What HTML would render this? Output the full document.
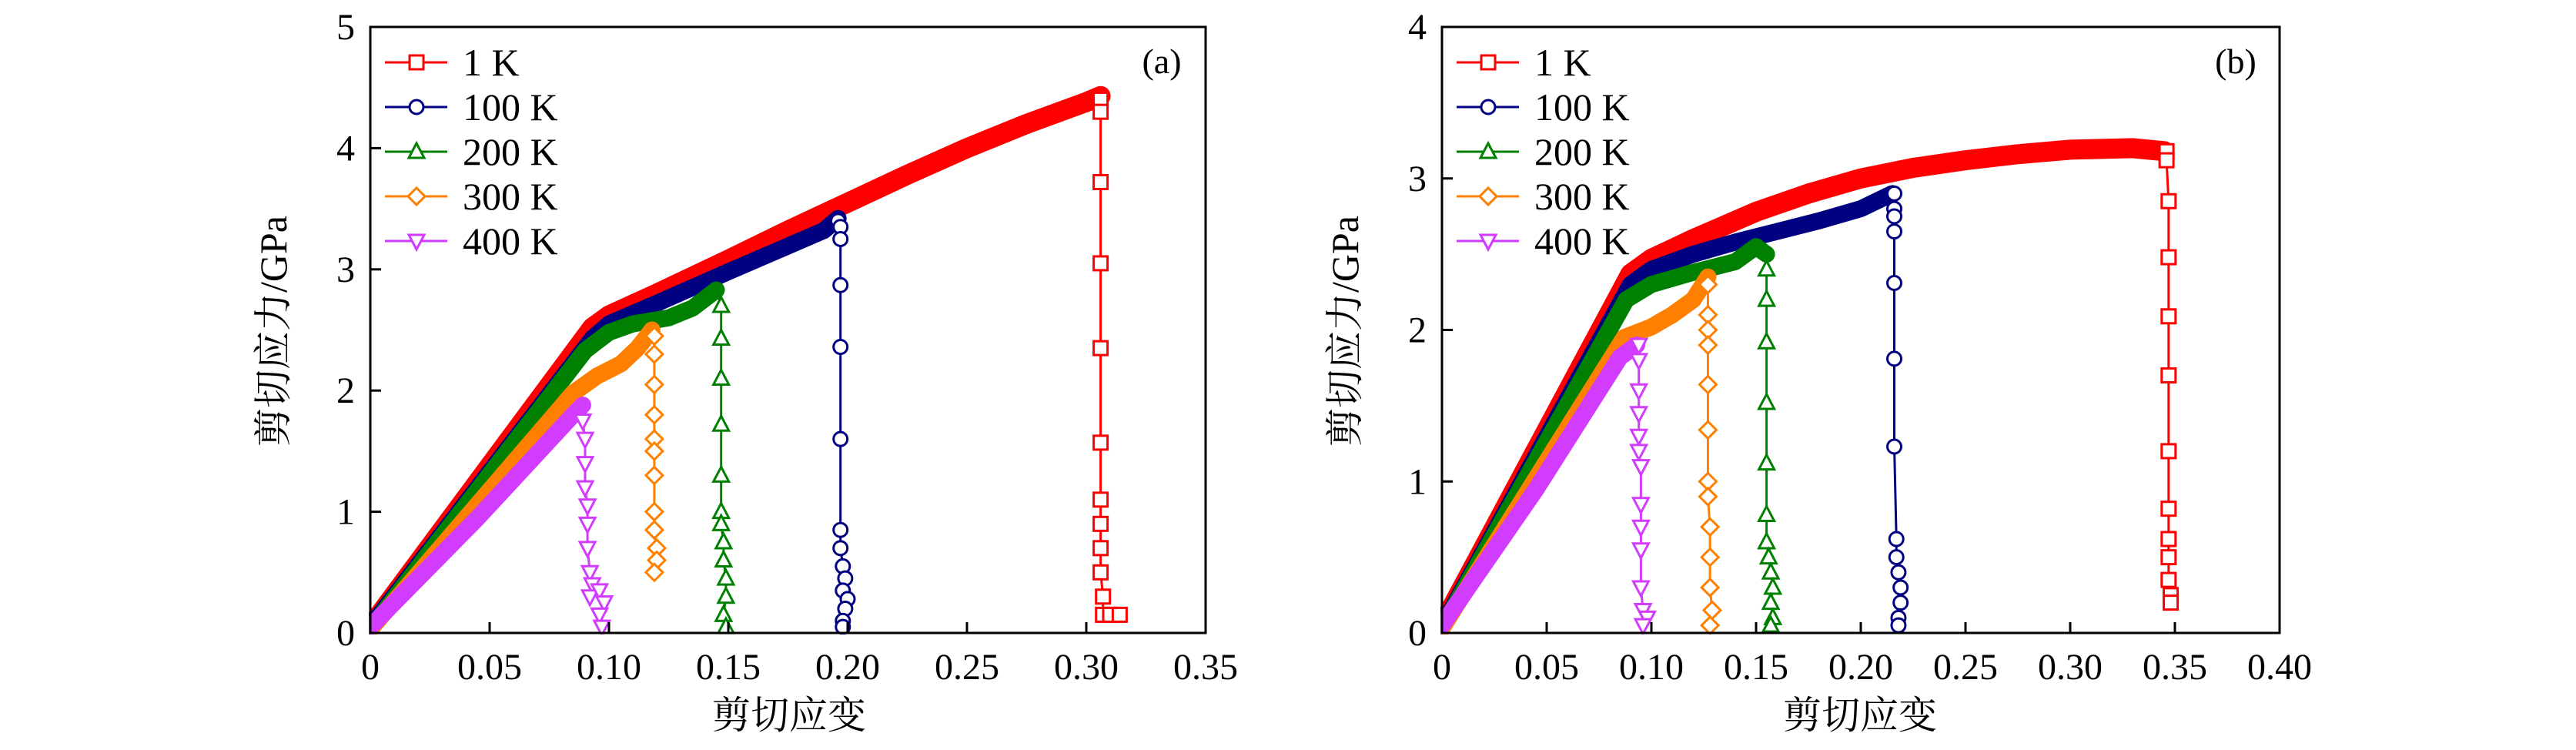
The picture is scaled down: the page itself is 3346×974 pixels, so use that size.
<!DOCTYPE html>
<html><head><meta charset="utf-8">
<style>
html,body{margin:0;padding:0;background:#fff;}
svg{display:block;}
text{font-family:"Liberation Serif","Noto Serif CJK SC",serif;fill:#000;}
</style></head>
<body>
<svg id="chart" width="3346" height="974" viewBox="0 0 3346 974" xmlns="http://www.w3.org/2000/svg"></svg>
<script>
// ---------- data ----------
const seriesNames = ["1 K","100 K","200 K","300 K","400 K"];
const seriesColors = ["#ff0000","#000080","#008000","#ff8000","#d23cff"];
const seriesMarkers = ["square","circle","up","diamond","down"];

// Panel (a) band curves [strain, stress]
const aBand1 = [[0,0.05],[0.093,2.52],[0.1,2.62],[0.12,2.8],[0.15,3.08],[0.175,3.32],[0.2,3.55],[0.225,3.78],[0.25,4.0],[0.275,4.2],[0.3,4.38],[0.306,4.43]];
const aBand100 = [[0,0.05],[0.093,2.43],[0.1,2.55],[0.12,2.72],[0.15,2.98],[0.17,3.15],[0.19,3.32],[0.196,3.42]];
const aBand200 = [[0,0.03],[0.09,2.33],[0.1,2.48],[0.11,2.55],[0.125,2.6],[0.135,2.68],[0.145,2.83]];
const aBand300 = [[0,0.03],[0.085,1.98],[0.095,2.12],[0.105,2.22],[0.112,2.35],[0.118,2.5]];
const aBand400 = [[0,0.05],[0.045,0.95],[0.085,1.8],[0.089,1.88]];
// Panel (a) drop markers
const aDrop1 = [[0.306,4.4],[0.306,4.3],[0.306,3.72],[0.306,3.05],[0.306,2.35],[0.306,1.57],[0.306,1.1],[0.306,0.9],[0.306,0.7],[0.306,0.5],[0.307,0.3],[0.307,0.15],[0.31,0.15],[0.314,0.15]];
const aDrop100 = [[0.196,3.4],[0.197,3.35],[0.197,3.25],[0.197,2.87],[0.197,2.36],[0.197,1.6],[0.197,0.85],[0.197,0.7],[0.198,0.55],[0.199,0.45],[0.198,0.35],[0.2,0.28],[0.199,0.2],[0.198,0.1],[0.198,0.05]];
const aDrop200 = [[0.147,2.7],[0.147,2.43],[0.147,2.1],[0.147,1.72],[0.147,1.3],[0.147,1.0],[0.147,0.9],[0.148,0.75],[0.148,0.6],[0.149,0.45],[0.149,0.3],[0.148,0.15],[0.149,0.05]];
const aDrop300 = [[0.119,2.45],[0.119,2.3],[0.119,2.05],[0.119,1.8],[0.119,1.6],[0.119,1.5],[0.119,1.3],[0.119,1.0],[0.119,0.85],[0.12,0.7],[0.12,0.6],[0.119,0.5]];
const aDrop400 = [[0.089,1.75],[0.09,1.6],[0.09,1.4],[0.09,1.2],[0.091,1.05],[0.091,0.9],[0.091,0.7],[0.092,0.5],[0.093,0.4],[0.092,0.3],[0.096,0.35],[0.098,0.25],[0.096,0.15],[0.097,0.05]];

// Panel (b) band curves
const bBand1 = [[0,0.05],[0.09,2.37],[0.1,2.47],[0.12,2.6],[0.15,2.78],[0.175,2.9],[0.2,3.0],[0.225,3.07],[0.25,3.12],[0.275,3.16],[0.3,3.19],[0.33,3.2],[0.345,3.18]];
const bBand100 = [[0,0.04],[0.09,2.3],[0.1,2.4],[0.12,2.5],[0.14,2.58],[0.16,2.65],[0.18,2.72],[0.2,2.8],[0.215,2.9]];
const bBand200 = [[0,0.03],[0.088,2.2],[0.1,2.3],[0.12,2.38],[0.14,2.45],[0.15,2.55],[0.155,2.5]];
const bBand300 = [[0,0.03],[0.087,1.95],[0.1,2.02],[0.11,2.1],[0.12,2.2],[0.127,2.35]];
const bBand400 = [[0,0.05],[0.045,0.95],[0.085,1.82],[0.093,1.9]];
const bDrop1 = [[0.346,3.18],[0.346,3.12],[0.347,2.85],[0.347,2.48],[0.347,2.09],[0.347,1.7],[0.347,1.2],[0.347,0.82],[0.347,0.62],[0.347,0.5],[0.347,0.35],[0.348,0.25],[0.348,0.2]];
const bDrop100 = [[0.216,2.9],[0.216,2.8],[0.216,2.75],[0.216,2.65],[0.216,2.31],[0.216,1.81],[0.216,1.23],[0.217,0.62],[0.217,0.5],[0.218,0.4],[0.219,0.3],[0.219,0.2],[0.218,0.1],[0.218,0.05]];
const bDrop200 = [[0.155,2.4],[0.155,2.2],[0.155,1.92],[0.155,1.52],[0.155,1.12],[0.155,0.78],[0.155,0.6],[0.156,0.5],[0.157,0.4],[0.158,0.3],[0.157,0.2],[0.158,0.1],[0.157,0.05]];
const bDrop300 = [[0.127,2.3],[0.127,2.1],[0.127,2.0],[0.127,1.9],[0.127,1.64],[0.127,1.34],[0.127,1.0],[0.127,0.9],[0.128,0.7],[0.128,0.5],[0.128,0.3],[0.129,0.15],[0.128,0.05]];
const bDrop400 = [[0.094,1.9],[0.094,1.8],[0.094,1.6],[0.094,1.45],[0.094,1.3],[0.094,1.2],[0.095,1.1],[0.095,0.85],[0.095,0.7],[0.095,0.55],[0.095,0.3],[0.096,0.15],[0.098,0.1],[0.096,0.05]];

const aXTicks = ["0","0.05","0.10","0.15","0.20","0.25","0.30","0.35"];
const aYTicks = ["0","1","2","3","4","5"];
const bXTicks = ["0","0.05","0.10","0.15","0.20","0.25","0.30","0.35","0.40"];
const bYTicks = ["0","1","2","3","4"];

// ---------- drawing ----------
const NS = "http://www.w3.org/2000/svg";
const svg = document.getElementById("chart");
function mk(tag, attrs, parent){
  const e = document.createElementNS(NS, tag);
  for (const k in attrs) e.setAttribute(k, attrs[k]);
  (parent||svg).appendChild(e);
  return e;
}
function markerShape(type, cx, cy, color, g){
  const s = 9;
  let e;
  if (type==="square") e = mk("rect",{x:cx-s,y:cy-s,width:2*s,height:2*s},g);
  else if (type==="circle") e = mk("circle",{cx:cx,cy:cy,r:s},g);
  else if (type==="up") e = mk("polygon",{points:`${cx},${cy-s-2} ${cx-s-1},${cy+s-1} ${cx+s+1},${cy+s-1}`},g);
  else if (type==="down") e = mk("polygon",{points:`${cx},${cy+s+2} ${cx-s-1},${cy-s+1} ${cx+s+1},${cy-s+1}`},g);
  else e = mk("polygon",{points:`${cx},${cy-s-2} ${cx+s+2},${cy} ${cx},${cy+s+2} ${cx-s-2},${cy}`},g);
  e.setAttribute("fill","#fff");
  e.setAttribute("stroke",color);
  e.setAttribute("stroke-width","3");
  
  
  return e;
}

function panel(cfg){
  const {id,left,right,top,bottom,xmax,ymax,xt,yt,bands,drops,tag,ylx,xlx} = cfg;
  const X = v => left + v/xmax*(right-left);
  const Y = v => bottom - v/ymax*(bottom-top);
  const g = mk("g",{});
  
  
  for (let i=0;i<5;i++){
    const sg = mk("g",{},g);
    
    
    const col = seriesColors[i];
    const band = bands[i], drop = drops[i];
    const bp = mk("polyline",{points:band.map(p=>X(p[0])+","+Y(p[1])).join(" "),fill:"none",stroke:col,"stroke-width":i===0?26:22,"stroke-linejoin":"round","stroke-linecap":"round"},sg);
    
    
    const pts = [band[band.length-1]].concat(drop);
    const dl = mk("polyline",{points:pts.map(p=>X(p[0])+","+Y(p[1])).join(" "),fill:"none",stroke:col,"stroke-width":3},sg);
    
    
    drop.forEach(p=>markerShape(seriesMarkers[i],X(p[0]),Y(p[1]),col,sg));
  }
  // mask band overflow below axis
  mk("rect",{x:left-30,y:bottom+2,width:right-left+60,height:40,fill:"#fff"},g);
  mk("rect",{x:left-40,y:top,width:38,height:bottom-top+4,fill:"#fff"},g);
  const fr = mk("rect",{x:left,y:top,width:right-left,height:bottom-top,fill:"none",stroke:"#000","stroke-width":3},g);
  
  
  xt.forEach((t,i)=>{
    const v = i*0.05, x = X(v);
    if (i>0 && i<xt.length-1){
      const tk = mk("line",{x1:x,y1:bottom,x2:x,y2:bottom-14,stroke:"#000","stroke-width":3},g);
      
      
    }
    const tx = mk("text",{x:x,y:bottom+60,"font-size":48,"text-anchor":"middle"},g);
    tx.textContent = t;
    
    
  });
  yt.forEach((t,i)=>{
    const y = Y(i);
    if (i>0 && i<yt.length-1){
      const tk = mk("line",{x1:left,y1:y,x2:left+14,y2:y,stroke:"#000","stroke-width":3},g);
      
      
    }
    const tx = mk("text",{x:left-20,y:y+16,"font-size":48,"text-anchor":"end"},g);
    tx.textContent = t;
    
    
  });
  const xl = mk("text",{x:xlx,y:946,"font-size":50,"text-anchor":"middle"},g);
  xl.textContent = "剪切应变";
  
  
  const yl = mk("text",{x:0,y:0,"font-size":50,"text-anchor":"middle",transform:`translate(${ylx},430) rotate(-90)`},g);
  yl.textContent = "剪切应力/GPa";
  
  
  const pt = mk("text",{x:right-57,y:95,"font-size":46,"text-anchor":"middle"},g);
  pt.textContent = tag;
  
  
  const lg = mk("g",{},g);
  
  
  for (let i=0;i<5;i++){
    const ly = 81 + i*58;
    const eg = mk("g",{},lg);
    
    
    mk("line",{x1:left+19,y1:ly,x2:left+100,y2:ly,stroke:seriesColors[i],"stroke-width":3},eg);
    markerShape(seriesMarkers[i],left+60,ly,seriesColors[i],eg);
    const lt = mk("text",{x:left+120,y:ly+17,"font-size":50},eg);
    lt.textContent = seriesNames[i].replace(" ","\u00a0");
    
    
  }
}

panel({id:"panel-a",left:481,right:1566,top:35,bottom:822,xmax:0.35,ymax:5,xt:aXTicks,yt:aYTicks,
  bands:[aBand1,aBand100,aBand200,aBand300,aBand400],drops:[aDrop1,aDrop100,aDrop200,aDrop300,aDrop400],
  tag:"(a)",ylx:372,xlx:1025});
panel({id:"panel-b",left:1873,right:2961,top:35,bottom:822,xmax:0.4,ymax:4,xt:bXTicks,yt:bYTicks,
  bands:[bBand1,bBand100,bBand200,bBand300,bBand400],drops:[bDrop1,bDrop100,bDrop200,bDrop300,bDrop400],
  tag:"(b)",ylx:1764,xlx:2416});
</script>
</body></html>
